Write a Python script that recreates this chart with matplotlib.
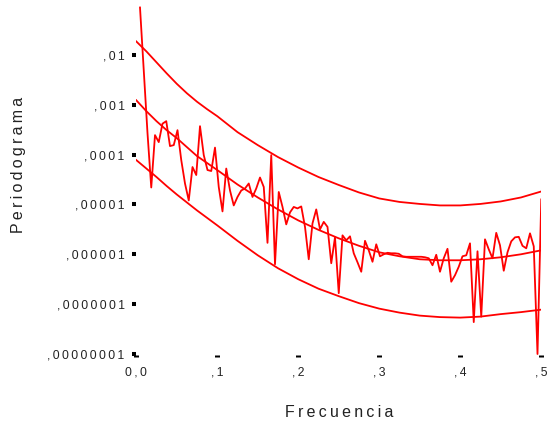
import numpy as np
import matplotlib
matplotlib.use("Agg")
import matplotlib.pyplot as plt

# Periodogram of a monthly series of length 216: frequencies k/216, k = 1..108
series_length = 216
freq = np.arange(1, 109) / series_length
log_periodogram = [
    -1.05, -2.31, -3.57, -4.66, -3.61, -3.75, -3.38, -3.33, -3.83, -3.81,
    -3.51, -4.11, -4.58, -4.92, -4.25, -4.41, -3.43, -4.01, -4.31, -4.33,
    -3.86, -4.65, -5.14, -4.28, -4.72, -5.02, -4.85, -4.72, -4.68, -4.58,
    -4.85, -4.68, -4.46, -4.65, -5.77, -4.01, -6.20, -4.75, -5.05, -5.40,
    -5.16, -5.05, -5.08, -5.04, -5.45, -6.10, -5.38, -5.10, -5.50, -5.35,
    -5.45, -6.18, -5.66, -6.78, -5.62, -5.72, -5.64, -5.98, -6.16, -6.35,
    -5.73, -5.92, -6.15, -5.80, -6.04, -6.00, -5.97, -5.98, -5.98, -5.99,
    -6.04, -6.05, -6.05, -6.05, -6.05, -6.05, -6.06, -6.08, -6.22, -6.01,
    -6.35, -6.08, -5.89, -6.55, -6.42, -6.25, -6.04, -6.02, -5.78, -7.36,
    -5.94, -7.25, -5.70, -5.90, -6.08, -5.57, -5.82, -6.33, -5.96, -5.74,
    -5.66, -5.65, -5.83, -5.88, -5.58, -5.84, -8.00, -4.90,
]

# Fitted spectrum and its confidence limits (log10 scale)
band_freq = [0.0, 0.0125, 0.025, 0.0375, 0.05, 0.0625, 0.075, 0.0875, 0.1, 0.125,
             0.15, 0.175, 0.2, 0.225, 0.25, 0.275, 0.3, 0.325, 0.35, 0.375,
             0.4, 0.425, 0.45, 0.475, 0.5]
log_upper = [-1.73, -1.93, -2.15, -2.37, -2.58, -2.77, -2.94, -3.09, -3.23, -3.55,
             -3.81, -4.05, -4.26, -4.45, -4.61, -4.76, -4.88, -4.95, -4.99, -5.02,
             -5.02, -4.99, -4.94, -4.86, -4.74]
log_fit = [-2.91, -3.13, -3.33, -3.51, -3.67, -3.85, -4.03, -4.17, -4.31, -4.60,
           -4.86, -5.10, -5.32, -5.51, -5.68, -5.83, -5.96, -6.04, -6.10, -6.12,
           -6.12, -6.10, -6.06, -6.00, -5.92]
log_lower = [-4.11, -4.28, -4.45, -4.63, -4.80, -4.96, -5.12, -5.27, -5.42, -5.73,
             -6.02, -6.28, -6.50, -6.69, -6.84, -6.98, -7.09, -7.17, -7.23, -7.26,
             -7.27, -7.25, -7.20, -7.16, -7.11]

y_ticks = [1e-2, 1e-3, 1e-4, 1e-5, 1e-6, 1e-7, 1e-8]
y_tick_labels = [",01", ",001", ",0001", ",00001", ",000001", ",0000001", ",00000001"]
x_ticks = [0.0, 0.1, 0.2, 0.3, 0.4, 0.5]
x_tick_labels = ["0,0", ",1", ",2", ",3", ",4", ",5"]

plt.rcParams["font.family"] = ["Liberation Sans", "DejaVu Sans"]


def spaced(text):
    return "\u2009".join(text)


fig = plt.figure(figsize=(5.47, 4.23), dpi=100)
ax = fig.add_axes([136.25 / 547, 1 - 355 / 423, 405 / 547, 350 / 423])

red = "#ff0000"
lw = 1.3
ax.plot(freq, 10 ** np.array(log_periodogram), color=red, lw=lw)
for curve in (log_upper, log_fit, log_lower):
    ax.plot(band_freq, 10 ** np.array(curve), color=red, lw=lw)

ax.set_yscale("log")
ax.set_xlim(0, 0.5)
ax.set_ylim(10 ** -8.02, 10 ** -1.0)
ax.set_yticks(y_ticks)
ax.set_yticklabels([spaced(t) for t in y_tick_labels])
ax.yaxis.set_minor_locator(matplotlib.ticker.NullLocator())
ax.set_xticks(x_ticks)
ax.set_xticklabels([spaced(t) for t in x_tick_labels])

for side in ax.spines.values():
    side.set_visible(False)

ax.tick_params(axis="y", length=2.9, width=2.9, direction="out", pad=5.5,
               labelsize=8.7, colors="black", labelcolor="#222222")
ax.tick_params(axis="x", length=1.5, width=3.6, direction="out", pad=7,
               labelsize=8.7, colors="black", labelcolor="#222222")

ax.set_xlabel(spaced("Frecuencia"), fontsize=11.5, color="#222222")
ax.xaxis.set_label_coords(0.5, -0.142)
ax.set_ylabel(spaced("Periodograma"), fontsize=11.5, color="#222222")
ax.yaxis.set_label_coords(-0.272, 0.543)

fig.savefig("out.png", dpi=100)
